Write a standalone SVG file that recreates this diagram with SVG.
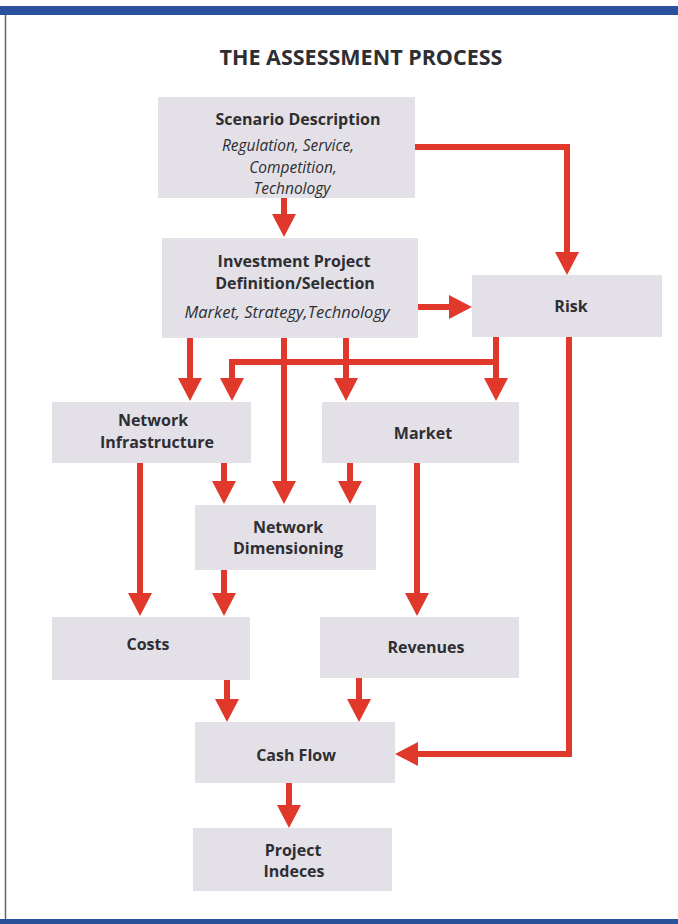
<svg xmlns="http://www.w3.org/2000/svg" width="678" height="924" viewBox="0 0 678 924">
<defs>
<marker id="ah" markerUnits="userSpaceOnUse" markerWidth="23" markerHeight="24" viewBox="0 0 23 24" refX="0" refY="12" orient="auto">
<path d="M0,0 L23,12 L0,24 z" fill="#e0392b"/>
</marker>
</defs>
<style>
.box{fill:#e3e1e7}
.t{font-family:"Open Sans","Noto Sans","Liberation Sans",sans-serif;font-weight:700;font-size:16px;fill:#2e2e33;text-anchor:middle}
.i{font-family:"Open Sans","Noto Sans","Liberation Sans",sans-serif;font-style:italic;font-size:15.5px;fill:#2e2e33;text-anchor:middle}
.c{fill:none;stroke:#e0392b;stroke-width:6;marker-end:url(#ah)}
</style>
<rect x="0" y="0" width="678" height="924" fill="#ffffff"/>
<rect x="0" y="6" width="678" height="9" fill="#2a519c"/>
<rect x="0" y="919" width="678" height="5" fill="#2a519c"/>
<line x1="5.5" y1="15" x2="5.5" y2="919" stroke="#666" stroke-width="1.5"/>
<text x="361" y="65" class="t" style="font-size:21.5px">THE ASSESSMENT PROCESS</text>

<g id="connectors">
<path class="c" d="M284,198 V214"/>
<path class="c" d="M415,147 H567 V252"/>
<path class="c" d="M418,307 H449"/>
<path class="c" d="M190,338 V378"/>
<path class="c" d="M346,338 V378"/>
<path class="c" d="M284,338 V481"/>
<path class="c" d="M496,337 V378"/>
<path class="c" d="M496,362 H232 V378"/>
<path class="c" d="M224,463 V481"/>
<path class="c" d="M350,463 V481"/>
<path class="c" d="M140,463 V593"/>
<path class="c" d="M417,463 V593"/>
<path class="c" d="M224,570 V593"/>
<path class="c" d="M227,680 V699"/>
<path class="c" d="M359,678 V699"/>
<path class="c" d="M569,337 V754 H418"/>
<path class="c" d="M289,783 V805"/>
</g>

<g id="scenario">
<rect class="box" x="158" y="97" width="257" height="101"/>
<text class="t" x="298" y="125">Scenario Description</text>
<text class="i" x="288" y="151">Regulation, Service,</text>
<text class="i" x="293" y="172.5">Competition,</text>
<text class="i" x="292" y="194">Technology</text>
</g>
<g id="investment">
<rect class="box" x="162" y="238" width="256" height="100"/>
<text class="t" x="294" y="267">Investment Project</text>
<text class="t" x="295" y="289">Definition/Selection</text>
<text class="i" x="287" y="318" style="font-size:16.5px">Market, Strategy,Technology</text>
</g>
<g id="risk">
<rect class="box" x="472" y="275" width="190" height="62"/>
<text class="t" x="571" y="312">Risk</text>
</g>
<g id="network-infrastructure">
<rect class="box" x="52" y="402" width="199" height="61"/>
<text class="t" x="153" y="426">Network</text>
<text class="t" x="157" y="448">Infrastructure</text>
</g>
<g id="market">
<rect class="box" x="322" y="402" width="197" height="61"/>
<text class="t" x="423" y="439">Market</text>
</g>
<g id="network-dimensioning">
<rect class="box" x="195" y="505" width="181" height="65"/>
<text class="t" x="288" y="533">Network</text>
<text class="t" x="288" y="554">Dimensioning</text>
</g>
<g id="costs">
<rect class="box" x="52" y="617" width="198" height="63"/>
<text class="t" x="148" y="650">Costs</text>
</g>
<g id="revenues">
<rect class="box" x="320" y="617" width="199" height="61"/>
<text class="t" x="426" y="653">Revenues</text>
</g>
<g id="cash-flow">
<rect class="box" x="195" y="722" width="200" height="61"/>
<text class="t" x="296" y="761">Cash Flow</text>
</g>
<g id="project-indeces">
<rect class="box" x="193" y="828" width="199" height="63"/>
<text class="t" x="293" y="856">Project</text>
<text class="t" x="294" y="877">Indeces</text>
</g>
</svg>
